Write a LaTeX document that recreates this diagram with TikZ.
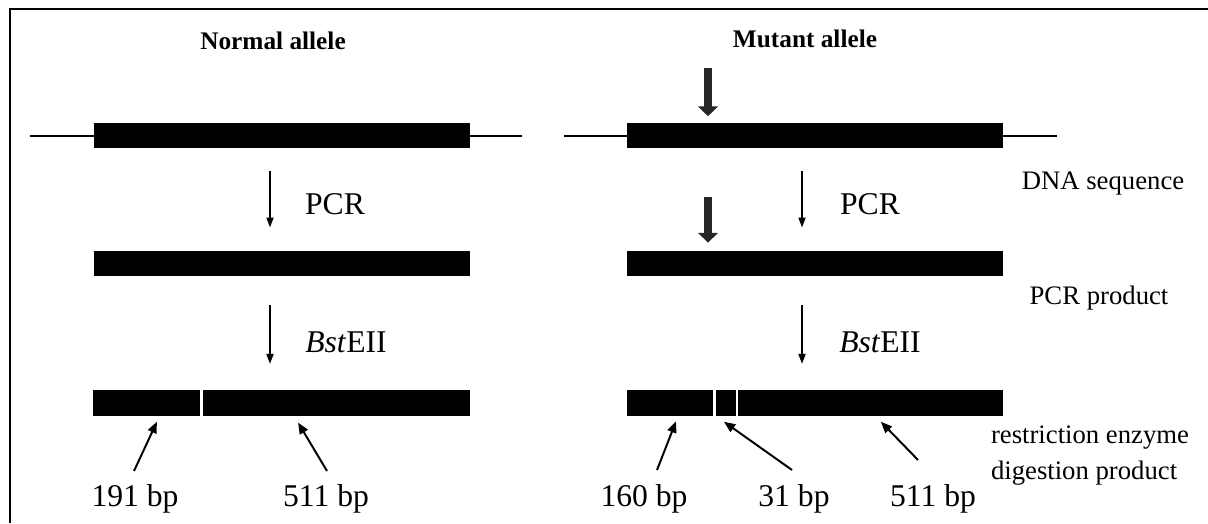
\documentclass[tikz,border=0pt]{standalone}
\usepackage{fontspec}
\setmainfont{Liberation Serif}
\usetikzlibrary{arrows.meta}

\begin{document}
\begin{tikzpicture}[
  bar/.style={fill=black,inner sep=0pt,minimum height=0.625cm},
  flank/.style={black,line width=1.6pt},
  steparrow/.style={black,line width=1.1pt,-{Triangle[width=5pt,length=7pt]}},
  fragarrow/.style={black,line width=1.4pt,-{Triangle[width=6.5pt,length=8pt]}},
  mutarrow/.style={black!85,line width=5pt,-{Triangle[width=14pt,length=7pt]}},
  title/.style={font=\fontsize{18}{22}\selectfont\bfseries},
  lbl/.style={font=\fontsize{22.5}{27}\selectfont},
  side/.style={font=\fontsize{19}{25.6}\selectfont,align=left}]
\useasboundingbox (0,0) rectangle (30.2,13.075);
% frame
\draw[line width=1.4pt] (0.25,0) -- (0.25,12.85) -- (30.2,12.85);
% titles
\node[title] (normtitle) at (6.825,12.05) {Normal allele};
\node[title] (muttitle) at (20.125,12.1) {Mutant allele};
% DNA with flanks
\draw[flank] (0.75,9.675) -- (13.05,9.675);
\draw[flank] (14.1,9.675) -- (26.425,9.675);
\node[bar,minimum width=9.4cm] (normgene) at (7.04,9.675) {};
\node[bar,minimum width=9.4cm] (mutgene) at (20.375,9.675) {};
% PCR products
\node[bar,minimum width=9.4cm] (normpcr) at (7.04,6.49) {};
\node[bar,minimum width=9.4cm] (mutpcr) at (20.375,6.49) {};
% digestion fragments
\node[bar,minimum width=2.675cm] (f191) at (3.6625,3.0) {};
\node[bar,minimum width=6.675cm] (f511) at (8.4125,3.0) {};
\node[bar,minimum width=2.15cm] (f160) at (16.75,3.0) {};
\node[bar,minimum width=0.5cm] (f31) at (18.15,3.0) {};
\node[bar,minimum width=6.625cm] (f511m) at (21.7625,3.0) {};
% steps
\draw[steparrow,shorten <=0.55cm,shorten >=0.58cm] ([xshift=-0.29cm]normgene.south) -- ([xshift=-0.29cm]normpcr.north);
\draw[steparrow,shorten <=0.55cm,shorten >=0.58cm] ([xshift=-0.325cm]mutgene.south) -- ([xshift=-0.325cm]mutpcr.north);
\draw[steparrow,shorten <=0.72cm,shorten >=0.66cm] ([xshift=-0.29cm]normpcr.south) -- ([xshift=-0.29cm]normpcr.south |- f511.north);
\draw[steparrow,shorten <=0.72cm,shorten >=0.66cm] ([xshift=-0.325cm]mutpcr.south) -- ([xshift=-0.325cm]mutpcr.south |- f511m.north);
\node[lbl] (normpcrlbl) at (8.375,7.975) {PCR};
\node[lbl] (mutpcrlbl) at (21.75,7.975) {PCR};
\node[lbl] (normbst) at (8.65,4.525) {\textit{Bst}EII};
\node[lbl] (mutbst) at (22.0,4.525) {\textit{Bst}EII};
% mutation site
\coordinate (mut1) at (17.7,11.375);
\coordinate (mut2) at (17.7,8.15);
\draw[mutarrow,shorten >=0.175cm] (mut1) -- (mutgene.north-|mut1);
\draw[mutarrow,shorten >=0.2cm] (mut2) -- (mutpcr.north-|mut2);
% side labels
\node[side] (dnalbl) at (27.575,8.475) {DNA sequence};
\node[side] (pcrlbl) at (27.475,5.625) {PCR product};
\node[side] (diglbl) at (27.25,1.675) {restriction enzyme\\digestion product};
% fragment sizes
\node[lbl] (l191) at (3.375,0.6) {191 bp};
\node[lbl] (l511) at (8.15,0.6) {511 bp};
\node[lbl] (l160) at (16.1,0.6) {160 bp};
\node[lbl] (l31) at (19.85,0.6) {31 bp};
\node[lbl] (l511m) at (23.325,0.6) {511 bp};
\coordinate (t191) at (3.35,1.3);
\coordinate (t511) at (8.175,1.3);
\coordinate (t160) at (16.425,1.325);
\coordinate (t31) at (19.8,1.325);
\coordinate (t511m) at (22.95,1.575);
\draw[fragarrow] (t191) -- ([xshift=0.26cm,yshift=-0.15cm]f191.south);
\draw[fragarrow] (t511) -- ([xshift=-0.96cm,yshift=-0.17cm]f511.south);
\draw[fragarrow] (t160) -- ([xshift=0.15cm,yshift=-0.14cm]f160.south);
\draw[fragarrow] (t31) -- ([xshift=-0.05cm,yshift=-0.15cm]f31.south);
\draw[fragarrow] (t511m) -- ([xshift=0.26cm,yshift=-0.15cm]f511m.south);
\end{tikzpicture}
\end{document}
